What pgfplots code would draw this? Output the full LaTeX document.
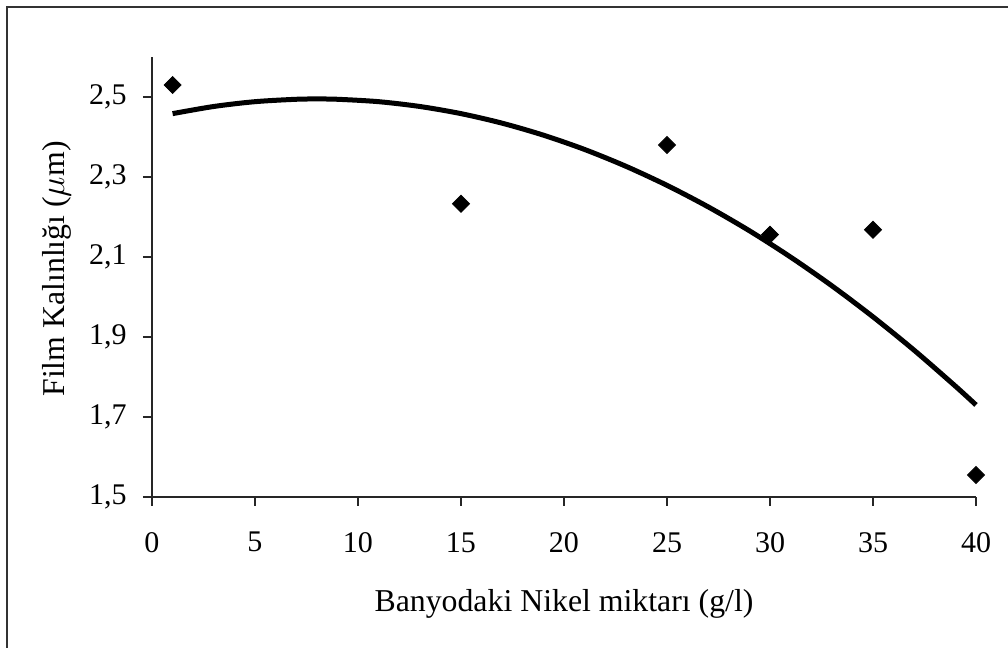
\documentclass[border=0pt]{standalone}
\usepackage{pgfplots}
\pgfplotsset{compat=1.18}
\usepackage{fontspec}
\setmainfont{Liberation Serif}
\begin{document}
\fontsize{14.8pt}{18pt}\selectfont
\begin{tikzpicture}
\useasboundingbox (-76pt,-75.5pt) rectangle (428pt,248.5pt);
\draw[line width=0.6pt, black!80] (-72.5pt,-90pt) -- (-72.5pt,245pt) -- (440pt,245pt);
\begin{axis}[
  at={(0,0)}, anchor=south west,
  scale only axis,
  width=412pt, height=220pt,
  xmin=0, xmax=40, ymin=1.5, ymax=2.6,
  axis x line=bottom, axis y line=left,
  axis line style={-, line width=0.7pt, black!85},
  xtick={0,5,...,40},
  ytick={1.5,1.7,...,2.5},
  tick align=outside,
  major tick length=4.5pt,
  tick style={line width=0.6pt, black!85},
  /pgf/number format/assume math mode=true,
  yticklabel style={/pgf/number format/fixed, /pgf/number format/fixed zerofill, /pgf/number format/precision=1, /pgf/number format/use comma, xshift=-3pt},
  ticklabel style={font=\fontsize{15pt}{18pt}\selectfont},
  xticklabel style={yshift=-8pt},
  label style={font=\fontsize{15.9pt}{19pt}\selectfont},
  xlabel={Banyodaki Nikel miktarı (g/l)},
  ylabel={Film Kalınlığı ($\mu$m)},
  xlabel style={yshift=-8.5pt},
  ylabel style={yshift=-1pt, xshift=4pt},
  clip=false,
]
\addplot[line width=2.5pt, black, smooth, no marks] coordinates {
(1,2.4584) (3,2.4763) (5,2.4883) (7,2.4943) (8,2.4950) (9,2.4943)
(11,2.4883) (13,2.4763) (15,2.4584) (17,2.4345) (19,2.4046) (21,2.3688)
(23,2.3269) (25,2.2791) (27,2.2253) (29,2.1656) (31,2.0998) (33,2.0281)
(35,1.9504) (37,1.8668) (39,1.7771) (40,1.7301)
};
\addplot[only marks, mark=square*, mark size=3pt, mark options={rotate=45, fill=black, draw=black}] coordinates {
(1,2.53) (15,2.233) (25,2.38) (30,2.156) (35,2.168) (40,1.555)
};
\end{axis}
\end{tikzpicture}
\end{document}
